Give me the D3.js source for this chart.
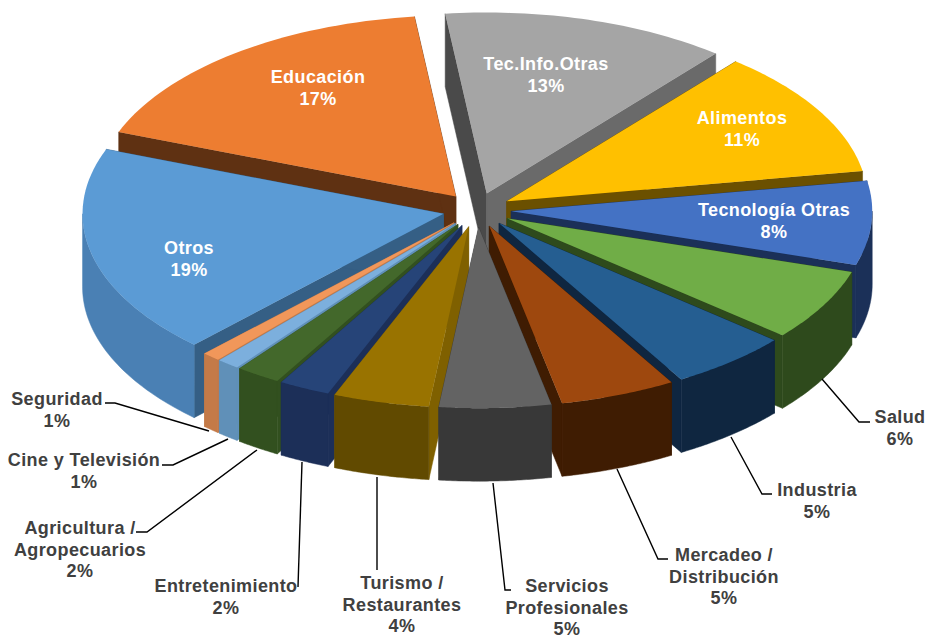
<!DOCTYPE html>
<html>
<head>
<meta charset="utf-8">
<title>Sectores</title>
<script src="https://cdn.jsdelivr.net/npm/d3@7"></script>
<style>
  html, body { margin: 0; padding: 0; background: #fff; }
  svg { display: block; }
  text { font-family: "Liberation Sans", Arial, sans-serif; font-weight: bold; font-size: 18px; letter-spacing: 0.4px; text-anchor: middle; }
</style>
</head>
<body>
<script>
// data, clockwise from the top slice
var sectors = ["Tec.Info.Otras", "Alimentos", "Tecnología Otras", "Salud", "Industria",
    "Mercadeo /|Distribución", "Servicios|Profesionales", "Turismo /|Restaurantes", "Entretenimiento",
    "Agricultura /|Agropecuarios", "Cine y Televisión", "Seguridad", "Otros", "Educación"];
var shares = [12.8, 11.4, 7.5, 6.4, 5.4, 5.2, 5.0, 4.3, 2.3, 2.0, 1.0, 0.8, 18.7, 17.4];

// colours: top face, outer wall, cut wall
var topColors   = ["#A5A5A5", "#FFC000", "#4472C4", "#70AD47", "#255E91", "#9E480E", "#636363", "#997300", "#264478", "#43682B", "#7CAFDD", "#F1975A", "#5B9BD5", "#ED7D31"];
var wallColors  = ["#4a4a4a", "#6b5000", "#1b3058", "#2e4a1c", "#0f2640", "#3f1c02", "#383838", "#614a00", "#1c2f58", "#32501f", "#6090b8", "#c47a48", "#4a80b4", "#5f3112"];
var cutColors   = ["#6a6a6a", "#6b5000", "#1b3058", "#2e4a1c", "#0f2640", "#3f1c02", "#383838", "#7f6000", "#1c2f58", "#32501f", "#6090b8", "#c47a48", "#355f85", "#5f3112"];

// label anchors (centre x, first baseline) and leader lines, same order as sectors
var labelAt = [[546,70],[742,124],[774,216],[900,423],[817,496],[724,561],[567,592],[402,589],[226,592],[80,534],[84,466],[57,405],[189,254],[318,83]];
var leaders = [null, null, null,
    [[822,379],[859,422],[870,422]],
    [[731,437],[762,494],[772,494]],
    [[617,469],[658,559],[668,559]],
    [[493,483],[505,590],[511,590]],
    [[377,477],[377,570]],
    [[302,462],[298,587]],
    [[257,450],[147,532],[136,532]],
    [[228,439],[173,465],[162,465]],
    [[209,431],[115,403],[105,403]],
    null, null];

var width = 930, height = 637;
var cx = 477, cy = 210, rx = 361, ry = 181;
var depth = 73, explode = 0.095;

var svg = d3.select("body").append("svg").attr("width", width).attr("height", height);

var x = d3.scaleLinear().domain([-1, 1]).range([cx - rx, cx + rx]);
var y = d3.scaleLinear().domain([-1, 1]).range([cy + ry, cy - ry]);

var pie = d3.pie().sort(null).value(d => d)
    .startAngle(-6.6 * Math.PI / 180)
    .endAngle(-6.6 * Math.PI / 180 + 2 * Math.PI);

var slices = pie(shares).map(function(s, i) {
    s.i = i;
    s.mid = (s.startAngle + s.endAngle) / 2;
    return s;
});

// point on the top face of a slice, r is 0 at the apex and 1 at the rim
function pt(s, a, r, down) {
    return [
        x(r * Math.sin(a) + explode * Math.sin(s.mid)),
        y(r * Math.cos(a) + explode * Math.cos(s.mid)) + (down ? depth : 0)
    ];
}
function arcPts(s, a0, a1, down) {
    return d3.range(0, 41).map(k => pt(s, a0 + (a1 - a0) * k / 40, 1, down));
}
var line = d3.line();
function poly(points) { return line(points) + "Z"; }

// back slices first, the front one last
var order = slices.slice().sort((a, b) => Math.cos(b.mid) - Math.cos(a.mid));

var g = svg.append("g").attr("class", "pie");
order.forEach(function(s) {
    var col = s.i;
    var gs = g.append("g").attr("class", "slice");
    var cut = function(a, c) {
        gs.append("path")
            .attr("d", poly([pt(s, a, 0), pt(s, a, 1), pt(s, a, 1, true), pt(s, a, 0, true)]))
            .attr("fill", c).attr("stroke", c).attr("stroke-width", 0.5);
    };
    cut(s.startAngle, s.i == 0 ? wallColors[col] : cutColors[col]);
    cut(s.endAngle, cutColors[col]);
    // outer wall only on the part of the rim that faces the viewer
    var a0 = Math.max(s.startAngle, Math.PI / 2), a1 = Math.min(s.endAngle, 3 * Math.PI / 2);
    if (a1 > a0) {
        gs.append("path")
            .attr("d", poly(arcPts(s, a0, a1).concat(arcPts(s, a0, a1, true).reverse())))
            .attr("fill", wallColors[col]).attr("stroke", wallColors[col]).attr("stroke-width", 0.5);
    }
    gs.append("path")
        .attr("d", poly([pt(s, s.mid, 0)].concat(arcPts(s, s.startAngle, s.endAngle))))
        .attr("fill", topColors[col]);
});

// leader lines
svg.append("g").selectAll("path")
    .data(leaders.filter(d => d))
    .enter().append("path")
    .attr("d", d => line(d))
    .attr("fill", "none").attr("stroke", "#000").attr("stroke-width", 1.4);

// labels: name lines then the rounded percent
var inside = [0, 1, 2, 12, 13];
var labels = svg.append("g").selectAll("text")
    .data(sectors)
    .enter().append("text")
    .attr("fill", (d, i) => inside.includes(i) ? "#fff" : "#404040")
    .attr("transform", (d, i) => "translate(" + labelAt[i][0] + "," + labelAt[i][1] + ")");
labels.each(function(d, i) {
    var rows = d.split("|").concat(d3.format(".0f")(shares[i]) + "%");
    d3.select(this).selectAll("tspan").data(rows).enter().append("tspan")
        .attr("x", 0).attr("dy", (r, k) => k ? 21.5 : 0).text(r => r);
});
</script>
</body>
</html>
